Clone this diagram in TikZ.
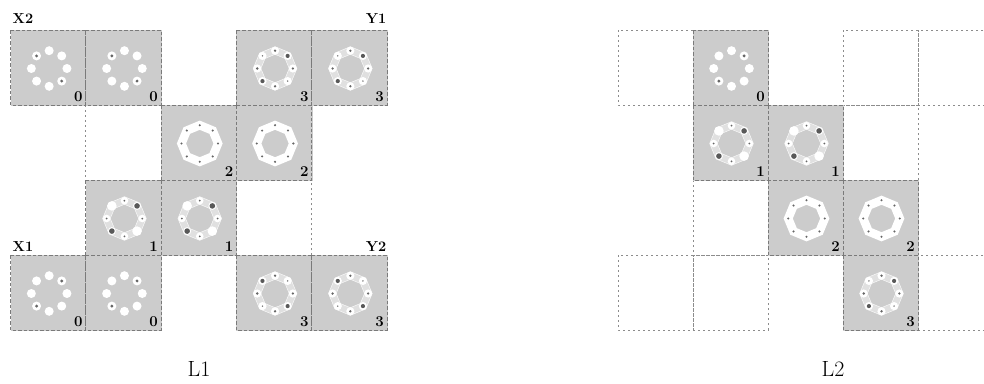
\documentclass[tikz,border=0pt]{standalone}
\definecolor{cellgray}{HTML}{CCCCCC}
\definecolor{gborder}{HTML}{7A7A7A}
\definecolor{eborder}{HTML}{8C8C8C}
\definecolor{dotc}{HTML}{666666}
\definecolor{darkdot}{HTML}{595959}
\tikzset{
  gline/.style={draw=gborder, line width=0.9pt, dash pattern=on 3.5pt off 2pt},
  eline/.style={draw=eborder, line width=0.7pt, dash pattern=on 2.2pt off 2.8pt},
  digit/.style={font=\fontsize{15}{15}\selectfont\bfseries, inner sep=0pt, anchor=base east},
  corner/.style={font=\fontsize{14.5}{15}\selectfont\bfseries, inner sep=0pt},
  title/.style={font=\fontsize{22}{24}\selectfont, inner sep=0pt, anchor=base},
  band/.style={white, opacity=0.4, line width=7.5pt, line join=miter},
  bandedge/.style={white, opacity=0.75, line width=0.5pt, line join=miter},
  pics/ringzero/.style={code={
     \foreach \a in {0,45,...,315}{\fill[white] (\a:17.8) circle[radius=4.5pt];}
     \fill[dotc] (#1:17.8) circle[radius=1.6pt];
     \fill[dotc] (#1+180:17.8) circle[radius=1.6pt];
  }},
  pics/ringone/.style={code={
     \draw[band] (0:18) \foreach \a in {45,90,...,315}{ -- (\a:18)} -- cycle;
     \draw[bandedge] (0:21.8) \foreach \a in {45,90,...,315}{ -- (\a:21.8)} -- cycle;
     \draw[bandedge] (0:14.2) \foreach \a in {45,90,...,315}{ -- (\a:14.2)} -- cycle;
     \foreach \a in {0,90,180,270}{\fill[white] (\a:17.8) circle[radius=3.8pt]; \fill[dotc] (\a:17.8) circle[radius=1pt];}
     \foreach \a in {135,315}{\fill[white] (\a:17.8) circle[radius=4pt]; \fill[darkdot] (\a:17.8) circle[radius=2.8pt];}
     \foreach \a in {45,225}{\fill[white] (\a:17.8) circle[radius=4.8pt];}
  }},
  pics/ringtwo/.style={code={
     \draw[white, line width=8.5pt, line join=miter] (0:18.3) \foreach \a in {45,90,...,315}{ -- (\a:18.3)} -- cycle;
     \foreach \a in {0,45,...,315}{\fill[dotc] (\a:18.3) circle[radius=1.15pt];}
  }},
  pics/ringthree/.style={code={
     \draw[band] (0:18) \foreach \a in {45,90,...,315}{ -- (\a:18)} -- cycle;
     \draw[bandedge] (0:21.8) \foreach \a in {45,90,...,315}{ -- (\a:21.8)} -- cycle;
     \draw[bandedge] (0:14.2) \foreach \a in {45,90,...,315}{ -- (\a:14.2)} -- cycle;
     \foreach \a in {0,45,...,315}{\fill[white] (\a:17.8) circle[radius=4.1pt];}
     \foreach \a in {0,90,180,270}{\fill[dotc] (\a:17.8) circle[radius=1.3pt];}
     \fill[darkdot] (#1:17.8) circle[radius=2.1pt];
     \fill[darkdot] (#1+180:17.8) circle[radius=2.1pt];
     \fill[dotc] (#1+90:17.8) circle[radius=0.8pt];
     \fill[dotc] (#1+270:17.8) circle[radius=0.8pt];
  }}
}
\newcommand{\ecell}[3]{\draw[eline] (#1,#2) rectangle ++(#3,75);}
\newcommand{\gcell}[6]{%
  \fill[cellgray] (#1,#2) rectangle ++(#3+1,76);
  \draw[gline] (#1,#2) rectangle ++(#3,75);
  \pic at ({#1+#3/2+1},{#2+38.5}) {#4};
  \node[digit] (#6) at ({#1+#3-3},{#2+71}) {#5};
}
\begin{document}
\begin{tikzpicture}[x=1pt,y=-1pt]
\useasboundingbox (0,0) rectangle (984,383);
% left grid
\ecell{85.8}{105}{75.3}
\ecell{236.4}{180}{75.3}
\gcell{10.5}{30}{75.3}{ringzero=45}{0}{a00}
\gcell{85.8}{30}{75.3}{ringzero=45}{0}{a01}
\gcell{236.4}{30}{75.3}{ringthree=315}{3}{a03}
\gcell{311.7}{30}{75.3}{ringthree=315}{3}{a04}
\gcell{161.1}{105}{75.3}{ringtwo}{2}{a12}
\gcell{236.4}{105}{75.3}{ringtwo}{2}{a13}
\gcell{85.8}{180}{75.3}{ringone}{1}{a21}
\gcell{161.1}{180}{75.3}{ringone}{1}{a22}
\gcell{10.5}{255}{75.3}{ringzero=315}{0}{a30}
\gcell{85.8}{255}{75.3}{ringzero=315}{0}{a31}
\gcell{236.4}{255}{75.3}{ringthree=45}{3}{a33}
\gcell{311.7}{255}{75.3}{ringthree=45}{3}{a34}
% right grid
\ecell{618}{30}{75}
\ecell{843}{30}{75}
\ecell{918}{30}{75}
\ecell{843}{105}{75}
\ecell{693}{180}{75}
\ecell{618}{255}{75}
\ecell{693}{255}{75}
\ecell{918}{255}{75}
\gcell{693}{30}{75}{ringzero=315}{0}{b01}
\gcell{693}{105}{75}{ringone}{1}{b11}
\gcell{768}{105}{75}{ringone}{1}{b12}
\gcell{768}{180}{75}{ringtwo}{2}{b22}
\gcell{843}{180}{75}{ringtwo}{2}{b23}
\gcell{843}{255}{75}{ringthree=315}{3}{b33}
% labels
\node[corner, anchor=base west] (X2) at (12.5,23.3) {X2};
\node[corner, anchor=base east] (Y1) at (386.5,23.3) {Y1};
\node[corner, anchor=base west] (X1) at (12.5,251) {X1};
\node[corner, anchor=base east] (Y2) at (386.5,251) {Y2};
\node[title] (L1) at (199,376) {L1};
\node[title] (L2) at (833,376) {L2};
\end{tikzpicture}
\end{document}
